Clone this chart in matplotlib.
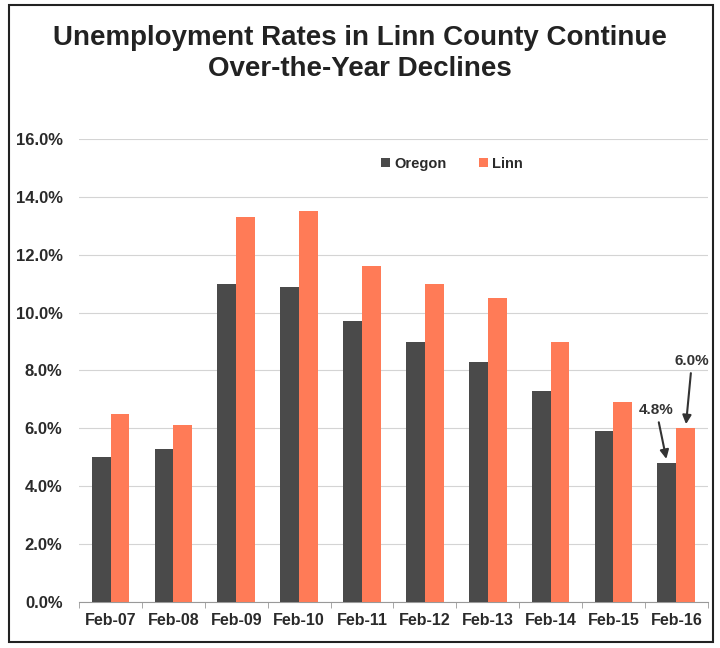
import matplotlib
matplotlib.use("Agg")
import matplotlib.pyplot as plt
import numpy as np
from matplotlib.patches import Rectangle

categories = ["Feb-07", "Feb-08", "Feb-09", "Feb-10", "Feb-11", "Feb-12", "Feb-13", "Feb-14", "Feb-15", "Feb-16"]
oregon = [5.0, 5.3, 11.0, 10.9, 9.7, 9.0, 8.3, 7.3, 5.9, 4.8]
linn = [6.5, 6.1, 13.3, 13.5, 11.6, 11.0, 10.5, 9.0, 6.9, 6.0]
yticks = [0, 2, 4, 6, 8, 10, 12, 14, 16]

plt.rcParams['font.family'] = ['Liberation Sans', 'DejaVu Sans']

fig = plt.figure(figsize=(7.2, 6.48), dpi=100)
ax = fig.add_axes([0.110, 0.071, 0.873, 0.7145])

x = np.arange(len(categories))
w = 0.3
c_or = "#4a4a4a"
c_li = "#ff7b57"
ax.bar(x - w/2, oregon, w, color=c_or, label="Oregon", zorder=3)
ax.bar(x + w/2, linn, w, color=c_li, label="Linn", zorder=3)

ax.set_xlim(-0.5, len(categories) - 0.5)
ax.set_ylim(0, 16)
ax.set_yticks(yticks)
ax.set_yticklabels([f"{v:.1f}%" for v in yticks], fontsize=12, fontweight='bold', color="#2a2a2a")
ax.set_xticks(x)
ax.set_xticklabels(categories, fontsize=11.5, fontweight='bold', color="#2a2a2a")
ax.tick_params(axis='y', length=0, pad=12)
ax.tick_params(axis='x', length=0, pad=8)
ax.set_xticks(np.arange(-0.5, len(categories)), minor=True)
ax.tick_params(axis='x', which='minor', length=4, color="#999999", direction='out')

ax.yaxis.grid(True, color="#d4d4d4", linewidth=0.8, zorder=0)
for s in ['top', 'right', 'left']:
    ax.spines[s].set_visible(False)
ax.spines['bottom'].set_color("#999999")

leg = ax.legend(loc='upper left', bbox_to_anchor=(0.46, 0.99), ncol=2, frameon=False,
                handlelength=0.6, handleheight=0.6, handletextpad=0.3, columnspacing=2.2,
                prop={'weight': 'bold', 'size': 10.5})
for t in leg.get_texts():
    t.set_color("#2a2a2a")

ax.annotate("6.0%", xy=(9 + w/2, linn[9] + 0.05), xytext=(9 + 0.25, 8.1),
            fontsize=11, fontweight='bold', color="#333333", ha='center', va='bottom',
            arrowprops=dict(arrowstyle='-|>', color="#333333", lw=1.5, mutation_scale=13))
ax.annotate("4.8%", xy=(9 - w/2, oregon[9] + 0.05), xytext=(9 - 0.32, 6.4),
            fontsize=11, fontweight='bold', color="#333333", ha='center', va='bottom',
            arrowprops=dict(arrowstyle='-|>', color="#333333", lw=1.5, mutation_scale=13))

fig.text(0.5, 0.962, "Unemployment Rates in Linn County Continue\nOver-the-Year Declines",
         ha='center', va='top', fontsize=20, fontweight='bold', color="#222222", linespacing=1.25)

fig.add_artist(Rectangle((0.012, 0.01), 0.978, 0.982, transform=fig.transFigure,
                         fill=False, edgecolor="#222222", linewidth=1.5))

fig.savefig("out.png", dpi=100, facecolor='white')
